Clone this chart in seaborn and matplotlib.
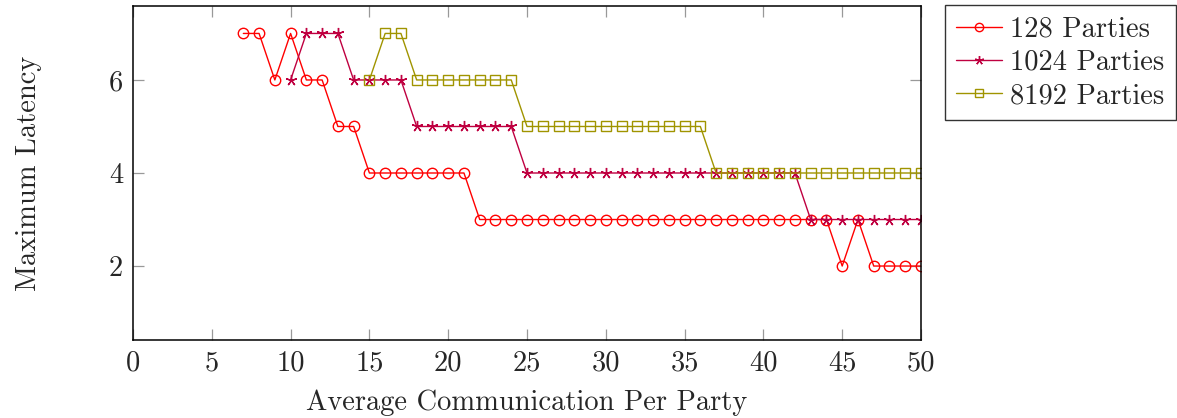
import matplotlib
matplotlib.use("Agg")
import matplotlib.pyplot as plt
import seaborn as sns
import pandas as pd

# ---- data ----
x_128 = [7, 8, 9, 10, 11, 12, 13, 14, 15, 16, 17, 18, 19, 20, 21, 22, 23, 24, 25, 26, 27, 28, 29,
         30, 31, 32, 33, 34, 35, 36, 37, 38, 39, 40, 41, 42, 43, 44, 45, 46, 47, 48, 49, 50]
y_128 = [7, 7, 6, 7, 6, 6, 5, 5, 4, 4, 4, 4, 4, 4, 4, 3, 3, 3, 3, 3, 3, 3, 3,
         3, 3, 3, 3, 3, 3, 3, 3, 3, 3, 3, 3, 3, 3, 3, 2, 3, 2, 2, 2, 2]

x_1024 = [10, 11, 12, 13, 14, 15, 16, 17, 18, 19, 20, 21, 22, 23, 24, 25, 26, 27, 28, 29, 30,
          31, 32, 33, 34, 35, 36, 37, 38, 39, 40, 41, 42, 43, 44, 45, 46, 47, 48, 49, 50]
y_1024 = [6, 7, 7, 7, 6, 6, 6, 6, 5, 5, 5, 5, 5, 5, 5, 4, 4, 4, 4, 4, 4,
          4, 4, 4, 4, 4, 4, 4, 4, 4, 4, 4, 4, 3, 3, 3, 3, 3, 3, 3, 3]

x_8192 = [15, 16, 17, 18, 19, 20, 21, 22, 23, 24, 25, 26, 27, 28, 29, 30, 31, 32, 33, 34, 35, 36,
          37, 38, 39, 40, 41, 42, 43, 44, 45, 46, 47, 48, 49, 50]
y_8192 = [6, 7, 7, 6, 6, 6, 6, 6, 6, 6, 5, 5, 5, 5, 5, 5, 5, 5, 5, 5, 5, 5,
          4, 4, 4, 4, 4, 4, 4, 4, 4, 4, 4, 4, 4, 4]

series_labels = ["128 Parties", "1024 Parties", "8192 Parties"]
x_ticks = [0, 5, 10, 15, 20, 25, 30, 35, 40, 45, 50]
y_ticks = [2, 4, 6]
x_label = "Average Communication Per Party"
y_label = "Maximum Latency"

# ---- style ----
sns.set_theme(style="white")
plt.rcParams["font.family"] = ["cmr10", "DejaVu Serif"]
plt.rcParams["mathtext.fontset"] = "cm"
plt.rcParams["axes.formatter.use_mathtext"] = True

FS = 20.5
fig = plt.figure(figsize=(11.77, 4.18), dpi=100)
ax = fig.add_axes([133 / 1177, 1 - 340 / 418, (921 - 133) / 1177, (340 - 6) / 418])

colors = ["#ff0000", "#bf0040", "#a09400"]
markers = ["o", (5, 2, 0), "s"]
msizes = [7.5, 8.0, 7.5]
xs = [x_128, x_1024, x_8192]
ys = [y_128, y_1024, y_8192]

for xv, yv, lab, c, m, ms in zip(xs, ys, series_labels, colors, markers, msizes):
    df = pd.DataFrame({"x": xv, "y": yv})
    sns.lineplot(data=df, x="x", y="y", ax=ax, color=c, label=lab,
                 marker=m, markersize=ms, markerfacecolor="none",
                 markeredgecolor=c, markeredgewidth=1.0, linewidth=1.0,
                 legend=False)

ax.set_xlim(0, 50)
ax.set_ylim(0.41, 7.59)
ax.set_xticks(x_ticks)
ax.set_yticks(y_ticks)
ax.set_xticklabels([str(v) for v in x_ticks], fontsize=FS)
ax.set_yticklabels([str(v) for v in y_ticks], fontsize=FS)
ax.tick_params(axis="both", which="major", direction="in", length=8,
               width=0.9, color="#999999", top=True, right=True,
               bottom=True, left=True, pad=7)
for sp in ax.spines.values():
    sp.set_color("black")
    sp.set_linewidth(1.1)
    sp.set_visible(True)

ax.set_xlabel(x_label, fontsize=FS, labelpad=10)
ax.set_ylabel(y_label, fontsize=FS, labelpad=48)

handles, labels = ax.get_legend_handles_labels()
leg = ax.legend(handles, labels, loc="upper left", bbox_to_anchor=(1.03, 1.003),
                borderaxespad=0, fontsize=FS, frameon=True, fancybox=False,
                handlelength=1.6, handletextpad=0.3, labelspacing=0.24,
                borderpad=0.4, markerscale=0.8)
leg.get_frame().set_edgecolor("black")
leg.get_frame().set_linewidth(1.0)

fig.savefig("out.png", dpi=100, facecolor="white")
